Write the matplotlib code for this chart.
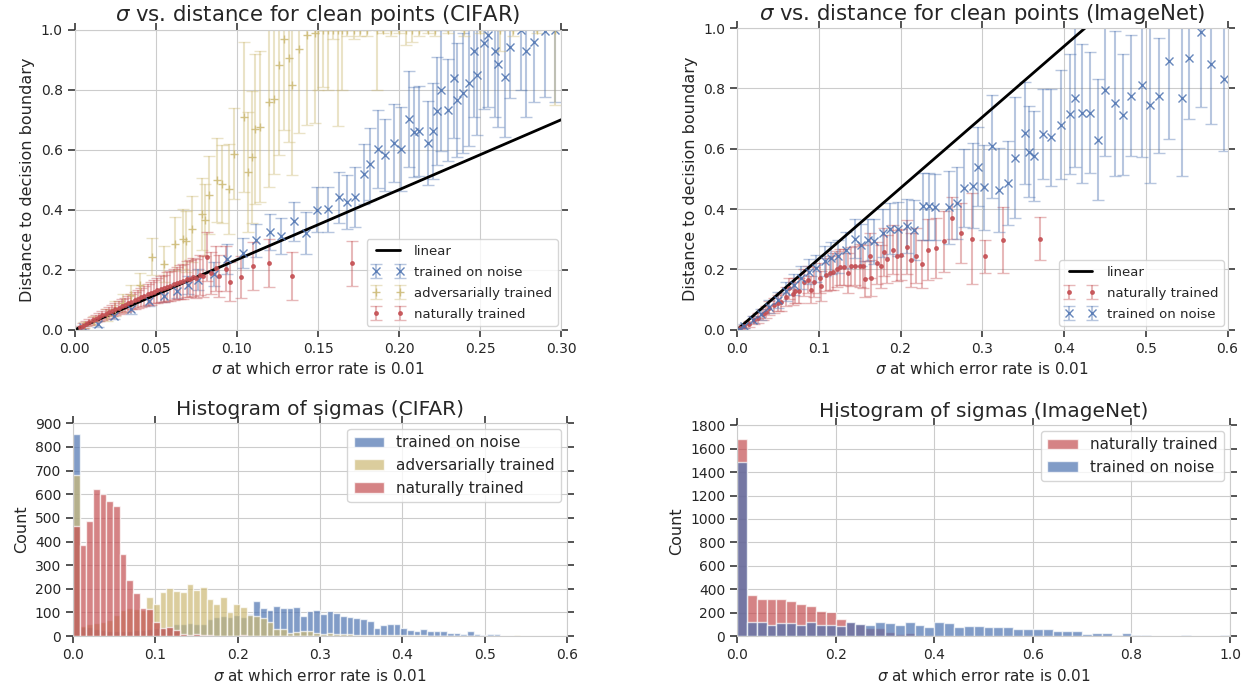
import numpy as np
import matplotlib
matplotlib.use("Agg")
import matplotlib.pyplot as plt
import seaborn as sns

# seaborn "deep" colours (old palette)
BLUE = "#4C72B0"
YELLOW = "#CCB974"
RED = "#C44E52"

# ---- CIFAR: sigma vs distance ----
cifar_noise_x = [0.005, 0.0144, 0.024, 0.035, 0.046, 0.055, 0.063, 0.07, 0.076, 0.0856,
                 0.094, 0.104, 0.112, 0.1206, 0.127, 0.135, 0.1427, 0.1495, 0.156, 0.163,
                 0.168, 0.173, 0.178, 0.182, 0.187, 0.191, 0.197, 0.201, 0.206, 0.209,
                 0.212, 0.218, 0.221, 0.223, 0.226, 0.23, 0.2335, 0.2356, 0.239, 0.243,
                 0.246, 0.248, 0.252, 0.255, 0.259, 0.261, 0.265, 0.268, 0.275, 0.278,
                 0.283, 0.29, 0.296]
cifar_noise_y = [0.008, 0.019, 0.047, 0.069, 0.097, 0.112, 0.13, 0.148, 0.167, 0.186,
                 0.236, 0.255, 0.298, 0.326, 0.311, 0.362, 0.323, 0.40, 0.402, 0.442,
                 0.424, 0.442, 0.519, 0.552, 0.603, 0.581, 0.622, 0.603, 0.703, 0.659,
                 0.661, 0.622, 0.661, 0.73, 0.797, 0.733, 0.839, 0.766, 0.789, 0.823,
                 0.928, 0.848, 0.955, 0.983, 0.93, 0.886, 0.841, 0.941, 1.0, 0.928,
                 0.958, 0.994, 0.997]
cifar_noise_err = [0.005, 0.01, 0.012, 0.015, 0.018, 0.02, 0.025, 0.03, 0.035, 0.04,
                   0.05, 0.05, 0.055, 0.06, 0.06, 0.065, 0.07, 0.075, 0.075, 0.085,
                   0.09, 0.1, 0.1, 0.12, 0.13, 0.12, 0.13, 0.14, 0.16, 0.15,
                   0.15, 0.14, 0.16, 0.18, 0.2, 0.17, 0.2, 0.19, 0.2, 0.21,
                   0.22, 0.2, 0.22, 0.24, 0.22, 0.21, 0.2, 0.17, 0.2, 0.22,
                   0.2, 0.22, 0.24]

cifar_adv_x = [0.006, 0.012, 0.02, 0.025, 0.03, 0.035, 0.04, 0.0474, 0.055, 0.0619,
               0.0666, 0.0687, 0.0722, 0.0784, 0.0804, 0.0829, 0.0876, 0.0907, 0.0948, 0.098,
               0.1041, 0.1066, 0.1093, 0.1113, 0.1144, 0.1196, 0.1227, 0.1258, 0.1289, 0.132,
               0.134, 0.138, 0.143, 0.148,
               0.150, 0.153, 0.156, 0.159, 0.162, 0.165, 0.168, 0.172, 0.176, 0.18,
               0.186, 0.19, 0.195, 0.2, 0.204, 0.208, 0.212, 0.218, 0.222, 0.23,
               0.24, 0.25, 0.262, 0.27, 0.285, 0.296]
cifar_adv_y = [0.015, 0.03, 0.05, 0.07, 0.09, 0.115, 0.15, 0.244, 0.22, 0.287,
               0.303, 0.294, 0.337, 0.387, 0.367, 0.448, 0.498, 0.484, 0.47, 0.587,
               0.71, 0.526, 0.576, 0.668, 0.677, 0.757, 0.769, 0.881, 0.967, 0.905,
               0.814, 0.936, 0.983, 0.989,
               1.0, 1.0, 1.0, 1.0, 1.0, 1.0, 1.0, 1.0, 1.0, 1.0,
               1.0, 1.0, 1.0, 1.0, 1.0, 1.0, 1.0, 1.0, 1.0, 1.0,
               1.0, 1.0, 1.0, 1.0, 1.0, 1.0]
cifar_adv_err = [0.01, 0.015, 0.02, 0.025, 0.03, 0.035, 0.04, 0.06, 0.06, 0.09,
                 0.1, 0.1, 0.11, 0.12, 0.12, 0.13, 0.14, 0.13, 0.15, 0.15,
                 0.25, 0.2, 0.22, 0.25, 0.25, 0.28, 0.25, 0.3, 0.3, 0.28,
                 0.3, 0.28, 0.3, 0.3,
                 0.2, 0.19, 0.2, 0.03, 0.32, 0.2, 0.02, 0.03, 0.02, 0.02,
                 0.2, 0.01, 0.02, 0.01, 0.05, 0.04, 0.02, 0.01, 0.02, 0.01,
                 0.02, 0.01, 0.07, 0.02, 0.01, 0.25]

cifar_nat_x = [0.003, 0.005, 0.007, 0.009, 0.011, 0.013, 0.015, 0.017, 0.019, 0.021,
               0.023, 0.025, 0.027, 0.029, 0.031, 0.033, 0.035, 0.037, 0.039, 0.041,
               0.043, 0.045, 0.047, 0.049, 0.051, 0.053, 0.055, 0.057, 0.059, 0.061,
               0.063, 0.065, 0.067, 0.069, 0.071, 0.073, 0.075, 0.077, 0.079, 0.0814,
               0.084, 0.087, 0.089, 0.093, 0.0955, 0.1025, 0.1097, 0.1198, 0.1338, 0.171]
cifar_nat_y = [0.008, 0.014, 0.02, 0.026, 0.031, 0.037, 0.042, 0.048, 0.053, 0.058,
               0.064, 0.068, 0.074, 0.079, 0.083, 0.089, 0.094, 0.098, 0.103, 0.108,
               0.112, 0.118, 0.121, 0.127, 0.131, 0.136, 0.139, 0.144, 0.147, 0.152,
               0.155, 0.16, 0.162, 0.168, 0.17, 0.175, 0.172, 0.182, 0.178, 0.244,
               0.19, 0.205, 0.18, 0.203, 0.16, 0.175, 0.212, 0.221, 0.18, 0.222]
cifar_nat_err = [0.005, 0.007, 0.009, 0.010, 0.011, 0.012, 0.014, 0.015, 0.016, 0.018,
                 0.019, 0.02, 0.021, 0.022, 0.024, 0.025, 0.026, 0.028, 0.03, 0.031,
                 0.033, 0.035, 0.037, 0.039, 0.041, 0.043, 0.045, 0.047, 0.05, 0.052,
                 0.054, 0.056, 0.058, 0.06, 0.062, 0.064, 0.065, 0.067, 0.068, 0.08,
                 0.07, 0.075, 0.07, 0.075, 0.065, 0.07, 0.08, 0.08, 0.08, 0.075]

cifar_linear_x = [0.0, 0.3]
cifar_linear_y = [0.0, 0.7]

# ---- ImageNet: sigma vs distance ----
imnet_nat_x = [0.004, 0.009, 0.015, 0.021, 0.026, 0.0314, 0.0355, 0.0396, 0.045, 0.05,
               0.054, 0.06, 0.064, 0.0682, 0.0714, 0.0763, 0.0824, 0.0873, 0.0906, 0.0947,
               0.101, 0.103, 0.109, 0.114, 0.117, 0.1224, 0.1265, 0.131, 0.1355, 0.14,
               0.1445, 0.15, 0.154, 0.157, 0.163, 0.164, 0.171, 0.176, 0.18, 0.184,
               0.191, 0.196, 0.2, 0.208, 0.213, 0.219, 0.226, 0.234, 0.243, 0.253,
               0.263, 0.274, 0.287, 0.303, 0.325, 0.371]
imnet_nat_y = [0.0055, 0.011, 0.02, 0.031, 0.039, 0.052, 0.059, 0.072, 0.081, 0.088,
               0.092, 0.11, 0.138, 0.12, 0.13, 0.13, 0.158, 0.166, 0.133, 0.157,
               0.171, 0.144, 0.182, 0.188, 0.193, 0.202, 0.207, 0.207, 0.188, 0.21,
               0.213, 0.213, 0.21, 0.169, 0.246, 0.171, 0.222, 0.21, 0.257, 0.235,
               0.266, 0.246, 0.249, 0.275, 0.232, 0.246, 0.218, 0.266, 0.271, 0.293,
               0.37, 0.32, 0.302, 0.244, 0.297, 0.302]
imnet_nat_err = [0.003, 0.006, 0.01, 0.013, 0.015, 0.018, 0.02, 0.022, 0.025, 0.027,
                 0.03, 0.032, 0.035, 0.037, 0.04, 0.04, 0.045, 0.045, 0.045, 0.05,
                 0.05, 0.05, 0.055, 0.055, 0.06, 0.06, 0.06, 0.06, 0.065, 0.065,
                 0.065, 0.07, 0.07, 0.06, 0.075, 0.06, 0.07, 0.07, 0.08, 0.08,
                 0.08, 0.085, 0.085, 0.09, 0.09, 0.09, 0.08, 0.1, 0.1, 0.1,
                 0.07, 0.1, 0.15, 0.055, 0.11, 0.072]

imnet_noise_x = [0.003, 0.009, 0.019, 0.029, 0.0396, 0.05, 0.06, 0.07, 0.078, 0.0886,
                 0.0967, 0.107, 0.115, 0.123, 0.1335, 0.1445, 0.152, 0.16, 0.168, 0.178,
                 0.187, 0.197, 0.208, 0.217, 0.227, 0.2347, 0.2416, 0.259, 0.269, 0.2776,
                 0.2886, 0.295, 0.302, 0.312, 0.321, 0.331, 0.34, 0.352, 0.357, 0.363,
                 0.374, 0.3837, 0.396, 0.407, 0.413, 0.422, 0.4314, 0.441, 0.45, 0.462,
                 0.472, 0.482, 0.495, 0.505, 0.516, 0.528, 0.544, 0.553, 0.567, 0.58,
                 0.596]
imnet_noise_y = [0.003, 0.013, 0.033, 0.052, 0.077, 0.099, 0.127, 0.149, 0.173, 0.193,
                 0.204, 0.227, 0.238, 0.243, 0.265, 0.302, 0.282, 0.298, 0.293, 0.32,
                 0.335, 0.335, 0.343, 0.331, 0.409, 0.409, 0.406, 0.406, 0.42, 0.47,
                 0.478, 0.541, 0.472, 0.608, 0.464, 0.486, 0.571, 0.652, 0.591, 0.577,
                 0.649, 0.638, 0.68, 0.715, 0.77, 0.718, 0.72, 0.63, 0.796, 0.751,
                 0.713, 0.776, 0.812, 0.746, 0.776, 0.892, 0.77, 0.9, 0.987, 0.882,
                 0.832]
imnet_noise_err = [0.003, 0.006, 0.012, 0.018, 0.022, 0.027, 0.03, 0.035, 0.038, 0.04,
                   0.045, 0.05, 0.052, 0.055, 0.06, 0.065, 0.07, 0.07, 0.075, 0.08,
                   0.085, 0.09, 0.09, 0.1, 0.11, 0.11, 0.11, 0.12, 0.12, 0.13,
                   0.14, 0.13, 0.14, 0.17, 0.14, 0.14, 0.2, 0.17, 0.15, 0.15,
                   0.15, 0.16, 0.18, 0.2, 0.23, 0.23, 0.2, 0.2, 0.22, 0.24,
                   0.2, 0.2, 0.24, 0.26, 0.19, 0.26, 0.26, 0.2, 0.25, 0.2,
                   0.24]

imnet_linear_x = [0.0, 0.6]
imnet_linear_y = [0.0, 1.41]

# ---- CIFAR histogram (74 bins on [0, 0.6]) ----
cifar_bin_edges = np.linspace(0.0, 0.6, 75)
cifar_hist_noise = [855,
                    40, 38, 30, 25, 22, 20, 20, 22, 25, 28, 30, 35,
                    37, 44, 51, 50, 54, 51, 51, 74, 81, 85, 82, 90, 82, 95,
                    149, 117, 111, 128, 117, 117, 122, 84, 105, 111, 92,
                    106, 96, 85, 79, 77, 72, 62, 35, 46, 51, 51, 35, 25, 21, 30, 21, 21, 21,
                    14, 14, 10, 21, 10, 3, 8, 8, 2, 1, 2, 1, 1, 2, 1, 0, 1, 1]
cifar_hist_adv = [680,
                  45, 50, 55, 60, 70, 90, 110, 120, 115, 110,
                  165, 137, 186, 203, 192, 186, 219, 193, 209, 156, 138, 165, 100, 137, 122, 90,
                  85, 75, 58, 31, 31, 14, 18, 21, 21, 14, 9,
                  12, 10, 9, 8, 7, 6, 6, 5, 5, 4, 4, 4, 3, 3, 3, 2, 2, 2, 2, 1,
                  2, 1, 2, 1, 1, 1, 1, 2, 3, 0, 0, 0, 0, 0, 0, 0]
cifar_hist_nat = [465, 385, 485, 620, 602, 570, 550, 348, 236, 182, 118, 114, 58,
                  33, 37, 26, 9, 7, 9, 4, 3, 2, 2, 2, 1, 5,
                  0, 0, 0, 0, 0, 0, 0, 0, 0, 0, 0, 0, 0, 0, 0, 0, 0, 0, 0, 0, 0, 0,
                  0, 0, 0, 0, 0, 0, 0, 0, 0, 0, 0, 0, 0, 0, 0, 0, 0, 0, 0, 0, 0, 0,
                  0, 0, 0, 0]

# ---- ImageNet histogram (50 bins on [0, 1]) ----
imnet_bin_edges = np.linspace(0.0, 1.0, 51)
imnet_hist_nat = [1680, 355, 321, 321, 321, 304, 278, 261, 218, 206,
                  143, 120, 105, 69, 69, 34, 20, 26, 11, 6,
                  3, 2, 1, 1, 1, 0, 0, 0, 0, 0,
                  0, 0, 0, 0, 0, 0, 0, 0, 0, 0,
                  0, 0, 0, 0, 0, 0, 0, 0, 0, 0]
imnet_hist_noise = [1490, 120, 120, 97, 112, 112, 97, 120, 97, 97,
                    89, 120, 106, 97, 120, 112, 97, 120, 97, 77,
                    120, 112, 77, 89, 89, 77, 77, 77, 57, 57,
                    57, 57, 46, 46, 46, 17, 23, 23, 11, 23,
                    11, 11, 5, 4, 3, 11, 3, 3, 2, 11]

sns.set_style("whitegrid")
plt.rcParams['font.family'] = ['DejaVu Sans']
plt.rcParams['text.color'] = '.15'
plt.rcParams['axes.labelcolor'] = '.15'
plt.rcParams['xtick.color'] = '.15'
plt.rcParams['ytick.color'] = '.15'
plt.rcParams['axes.edgecolor'] = '.8'
plt.rcParams['grid.color'] = '.8'
plt.rcParams['legend.numpoints'] = 2

fig = plt.figure(figsize=(12.45, 6.87), dpi=100)
ax1 = fig.add_axes([0.060, 0.520, 0.391, 0.437])
ax2 = fig.add_axes([0.592, 0.520, 0.394, 0.439])
ax3 = fig.add_axes([0.0586, 0.074, 0.397, 0.310])
ax4 = fig.add_axes([0.592, 0.074, 0.396, 0.307])

def rgba(c, a):
    r, g, b = matplotlib.colors.to_rgb(c)
    return (r, g, b, a)

def style_axes(ax):
    ax.tick_params(which='major', direction='out', length=5, width=1.1,
                   top=True, right=True, bottom=True, left=True,
                   labelsize=10, color='.15')
    for s in ax.spines.values():
        s.set_color('.8')

def err_plot(ax, x, y, e, marker, c, label, ms):
    return ax.errorbar(x, y, yerr=e, fmt=marker, color=rgba(c, 0.85),
                       ecolor=rgba(c, 0.4), capsize=4, ms=ms, mew=1,
                       elinewidth=1.5, label=label)

leg_kw = dict(loc='lower right', fontsize=9.5, frameon=True, borderaxespad=0.3,
              handlelength=2.4, labelspacing=0.6)

# top-left: CIFAR scatter
h_noise = err_plot(ax1, cifar_noise_x, cifar_noise_y, cifar_noise_err, 'x', BLUE,
                   'trained on noise', 6)
h_adv = err_plot(ax1, cifar_adv_x, cifar_adv_y, cifar_adv_err, '+', YELLOW,
                 'adversarially trained', 6)
h_nat = err_plot(ax1, cifar_nat_x, cifar_nat_y, cifar_nat_err, '.', RED,
                 'naturally trained', 5)
h_lin, = ax1.plot(cifar_linear_x, cifar_linear_y, color='black', lw=2, label='linear')
ax1.set_xlim(0, 0.3)
ax1.set_ylim(0, 1.0)
ax1.set_xticks(np.arange(0, 0.301, 0.05))
ax1.set_yticks(np.arange(0, 1.01, 0.2))
ax1.set_xlabel(r'$\sigma$ at which error rate is 0.01', fontsize=11)
ax1.set_ylabel('Distance to decision boundary', fontsize=11.5)
ax1.set_title(r'$\sigma$ vs. distance for clean points (CIFAR)', fontsize=15.3)
leg = ax1.legend([h_lin, h_noise, h_adv, h_nat],
                 ['linear', 'trained on noise', 'adversarially trained', 'naturally trained'],
                 **leg_kw)
leg.get_frame().set_edgecolor('.8')
style_axes(ax1)

# top-right: ImageNet scatter
h_nat2 = err_plot(ax2, imnet_nat_x, imnet_nat_y, imnet_nat_err, '.', RED,
                  'naturally trained', 5)
h_noise2 = err_plot(ax2, imnet_noise_x, imnet_noise_y, imnet_noise_err, 'x', BLUE,
                    'trained on noise', 6)
h_lin2, = ax2.plot(imnet_linear_x, imnet_linear_y, color='black', lw=2, label='linear')
ax2.set_xlim(0, 0.6)
ax2.set_ylim(0, 1.0)
ax2.set_xticks(np.arange(0, 0.601, 0.1))
ax2.set_yticks(np.arange(0, 1.01, 0.2))
ax2.set_xlabel(r'$\sigma$ at which error rate is 0.01', fontsize=11)
ax2.set_ylabel('Distance to decision boundary', fontsize=11.5)
ax2.set_title(r'$\sigma$ vs. distance for clean points (ImageNet)', fontsize=15.3)
leg = ax2.legend([h_lin2, h_nat2, h_noise2],
                 ['linear', 'naturally trained', 'trained on noise'], **leg_kw)
leg.get_frame().set_edgecolor('.8')
style_axes(ax2)

# bottom-left: CIFAR histogram
w = np.diff(cifar_bin_edges)
ax3.bar(cifar_bin_edges[:-1], cifar_hist_noise, width=w, align='edge', color=BLUE,
        alpha=0.7, edgecolor='white', linewidth=1, label='trained on noise')
ax3.bar(cifar_bin_edges[:-1], cifar_hist_adv, width=w, align='edge', color=YELLOW,
        alpha=0.7, edgecolor='white', linewidth=1, label='adversarially trained')
ax3.bar(cifar_bin_edges[:-1], cifar_hist_nat, width=w, align='edge', color=RED,
        alpha=0.7, edgecolor='white', linewidth=1, label='naturally trained')
ax3.set_xlim(0, 0.6)
ax3.set_ylim(0, 900)
ax3.set_yticks(np.arange(0, 901, 100))
ax3.set_xticks(np.arange(0, 0.601, 0.1))
ax3.set_xlabel(r'$\sigma$ at which error rate is 0.01', fontsize=11)
ax3.set_ylabel('Count', fontsize=11.5)
ax3.set_title('Histogram of sigmas (CIFAR)', fontsize=14.5)
leg = ax3.legend(loc='upper right', fontsize=11, frameon=True, borderaxespad=0.4)
leg.get_frame().set_edgecolor('.8')
style_axes(ax3)

# bottom-right: ImageNet histogram
w = np.diff(imnet_bin_edges)
ax4.bar(imnet_bin_edges[:-1], imnet_hist_nat, width=w, align='edge', color=RED,
        alpha=0.7, edgecolor='white', linewidth=1, label='naturally trained')
ax4.bar(imnet_bin_edges[:-1], imnet_hist_noise, width=w, align='edge', color=BLUE,
        alpha=0.7, edgecolor='white', linewidth=1, label='trained on noise')
ax4.set_xlim(0, 1.0)
ax4.set_ylim(0, 1800)
ax4.set_yticks(np.arange(0, 1801, 200))
ax4.set_xticks(np.arange(0, 1.01, 0.2))
ax4.set_xlabel(r'$\sigma$ at which error rate is 0.01', fontsize=11)
ax4.set_ylabel('Count', fontsize=11.5)
ax4.set_title('Histogram of sigmas (ImageNet)', fontsize=14.5)
leg = ax4.legend(loc='upper right', fontsize=11, frameon=True, borderaxespad=0.4)
leg.get_frame().set_edgecolor('.8')
style_axes(ax4)

fig.savefig('out.png', dpi=100)
